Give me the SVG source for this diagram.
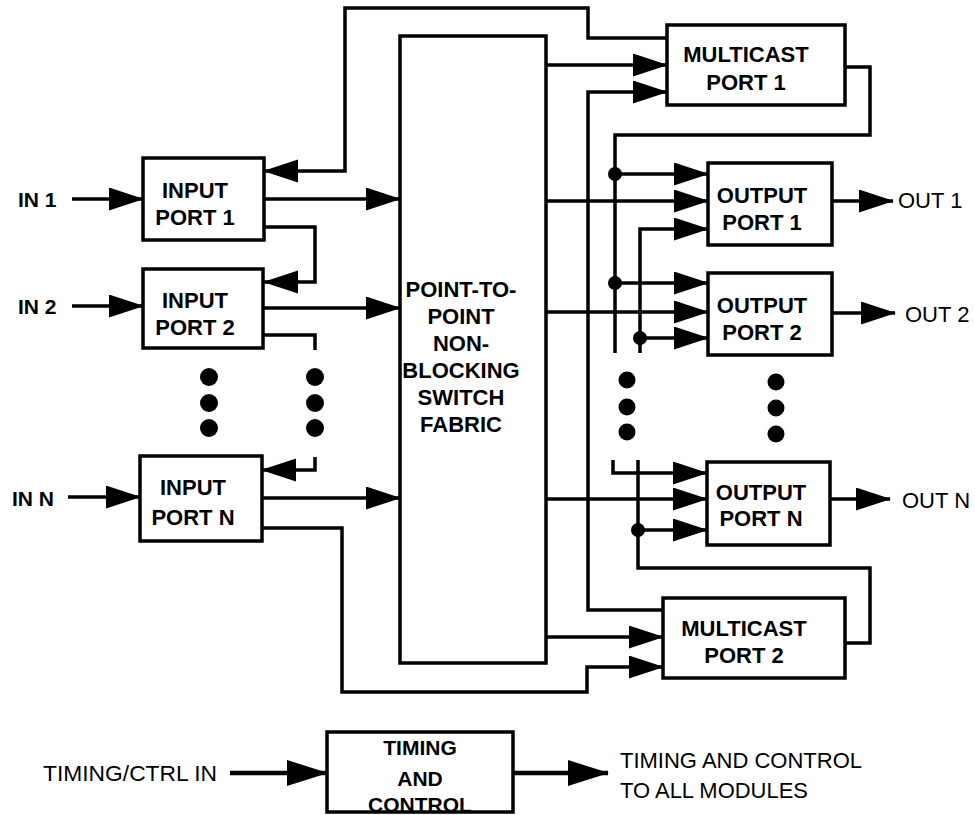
<svg xmlns="http://www.w3.org/2000/svg" width="975" height="815" viewBox="0 0 975 815">
<defs>
<style>
.box{fill:#fff;stroke:#000;stroke-width:3.5}
.w{fill:none;stroke:#000;stroke-width:3.5}
.a{marker-end:url(#ah)}
.ab{marker-end:url(#ahb)}
.lb{font-family:"Liberation Sans",Arial,sans-serif;font-size:22px;font-weight:bold;text-anchor:middle;fill:#000}
.io{font-family:"Liberation Sans",Arial,sans-serif;font-size:21px;fill:#000}
.tx{font-family:"Liberation Sans",Arial,sans-serif;font-size:22px;fill:#000}
.dot{fill:#000}
</style>
<marker id="ah" markerUnits="userSpaceOnUse" markerWidth="35" markerHeight="24" refX="34" refY="11.5" orient="auto">
<path d="M0,0 L35,11.5 L0,23 Z" fill="#000"/>
</marker>
<marker id="ahb" markerUnits="userSpaceOnUse" markerWidth="41" markerHeight="28" refX="40" refY="13" orient="auto">
<path d="M0,0 L41,13 L0,26 Z" fill="#000"/>
</marker>
</defs>

<g id="connectors">
<path class="w a" d="M72,199 H143"/>
<path class="w a" d="M72,306 H143"/>
<path class="w a" d="M68,497 H140"/>
<path class="w a" d="M264,199 H400"/>
<path class="w a" d="M263,308 H400"/>
<path class="w a" d="M262,498 H400"/>
<path class="w a" d="M264,227 H315 V282 H264"/>
<path class="w" d="M263,335 H315 V350"/>
<path class="w a" d="M315,457 V470 H262"/>
<path class="w a" d="M262,528 H342 V692 H587 V667 H663"/>
<path class="w a" d="M667,38 H588 V8 H345 V171 H264"/>
<path class="w a" d="M546,65 H667"/>
<path class="w a" d="M546,637 H663"/>
<path class="w a" d="M663,610 H588 V92 H667"/>
<path class="w" d="M845,67 H870 V135 H615 V353"/>
<path class="w a" d="M615,174 H708"/>
<path class="w a" d="M615,283 H708"/>
<path class="w a" d="M613,460 V473 H707"/>
<path class="w a" d="M546,201 H708"/>
<path class="w a" d="M546,312 H708"/>
<path class="w a" d="M546,499 H707"/>
<path class="w a" d="M640,353 V229 H708"/>
<path class="w a" d="M640,338 H708"/>
<path class="w" d="M845,643 H870 V568 H638 V460"/>
<path class="w a" d="M638,530 H707"/>
<path class="w a" d="M832,201 H893"/>
<path class="w a" d="M832,313 H895"/>
<path class="w a" d="M830,499 H890"/>
<circle class="dot" cx="615" cy="174" r="7"/>
<circle class="dot" cx="615" cy="283" r="7"/>
<circle class="dot" cx="640" cy="338" r="7"/>
<circle class="dot" cx="638" cy="530" r="7"/>
<path class="w ab" d="M230,773 H327" style="stroke-width:4.5"/>
<path class="w ab" d="M513,773 H608" style="stroke-width:4.5"/>
</g>

<g id="ellipsis">
<circle class="dot" cx="209" cy="377" r="9"/>
<circle class="dot" cx="209" cy="403" r="9"/>
<circle class="dot" cx="209" cy="428" r="9"/>
<circle class="dot" cx="315" cy="377" r="9"/>
<circle class="dot" cx="315" cy="403" r="9"/>
<circle class="dot" cx="315" cy="428" r="9"/>
<circle class="dot" cx="627" cy="380" r="8.5"/>
<circle class="dot" cx="627" cy="407" r="8.5"/>
<circle class="dot" cx="627" cy="432" r="8.5"/>
<circle class="dot" cx="776" cy="382" r="8.5"/>
<circle class="dot" cx="776" cy="408" r="8.5"/>
<circle class="dot" cx="776" cy="434" r="8.5"/>
</g>

<g id="input-port-1">
<rect class="box" x="143" y="158" width="121" height="82"/>
<text class="lb" x="195" y="198">INPUT</text>
<text class="lb" x="195" y="225">PORT 1</text>
</g>
<g id="input-port-2">
<rect class="box" x="143" y="269" width="120" height="79"/>
<text class="lb" x="195" y="308">INPUT</text>
<text class="lb" x="195" y="335">PORT 2</text>
</g>
<g id="input-port-n">
<rect class="box" x="140" y="456" width="122" height="85"/>
<text class="lb" x="193" y="495">INPUT</text>
<text class="lb" x="193" y="525">PORT N</text>
</g>
<g id="switch-fabric">
<rect class="box" x="400" y="36" width="146" height="627"/>
<text class="lb" x="461" y="297">POINT-TO-</text>
<text class="lb" x="461" y="324">POINT</text>
<text class="lb" x="461" y="351">NON-</text>
<text class="lb" x="461" y="378">BLOCKING</text>
<text class="lb" x="461" y="405">SWITCH</text>
<text class="lb" x="461" y="432">FABRIC</text>
</g>
<g id="multicast-port-1">
<rect class="box" x="667" y="25" width="178" height="80"/>
<text class="lb" x="746" y="62">MULTICAST</text>
<text class="lb" x="746" y="90">PORT 1</text>
</g>
<g id="output-port-1">
<rect class="box" x="708" y="163" width="124" height="82"/>
<text class="lb" x="762" y="203">OUTPUT</text>
<text class="lb" x="762" y="230">PORT 1</text>
</g>
<g id="output-port-2">
<rect class="box" x="708" y="273" width="124" height="82"/>
<text class="lb" x="762" y="313">OUTPUT</text>
<text class="lb" x="762" y="340">PORT 2</text>
</g>
<g id="output-port-n">
<rect class="box" x="707" y="462" width="123" height="83"/>
<text class="lb" x="761" y="500">OUTPUT</text>
<text class="lb" x="761" y="526">PORT N</text>
</g>
<g id="multicast-port-2">
<rect class="box" x="663" y="598" width="182" height="80"/>
<text class="lb" x="744" y="636">MULTICAST</text>
<text class="lb" x="744" y="663">PORT 2</text>
</g>
<g id="timing-and-control">
<rect class="box" x="327" y="732" width="186" height="80"/>
<text class="lb" x="420" y="755" style="font-size:21px">TIMING</text>
<text class="lb" x="420" y="786" style="font-size:21px">AND</text>
<text class="lb" x="420" y="812" style="font-size:21px">CONTROL</text>
</g>

<g id="labels">
<text class="io" x="18" y="207" font-weight="bold">IN 1</text>
<text class="io" x="18" y="314" font-weight="bold">IN 2</text>
<text class="io" x="12" y="506" font-weight="bold">IN N</text>
<text class="tx" x="898" y="208">OUT 1</text>
<text class="tx" x="905" y="322">OUT 2</text>
<text class="tx" x="902" y="508">OUT N</text>
<text class="tx" x="43" y="781" textLength="174" lengthAdjust="spacingAndGlyphs">TIMING/CTRL IN</text>
<text class="tx" x="620" y="768" textLength="242" lengthAdjust="spacingAndGlyphs">TIMING AND CONTROL</text>
<text class="tx" x="620" y="798" textLength="188" lengthAdjust="spacingAndGlyphs">TO ALL MODULES</text>
</g>
</svg>
